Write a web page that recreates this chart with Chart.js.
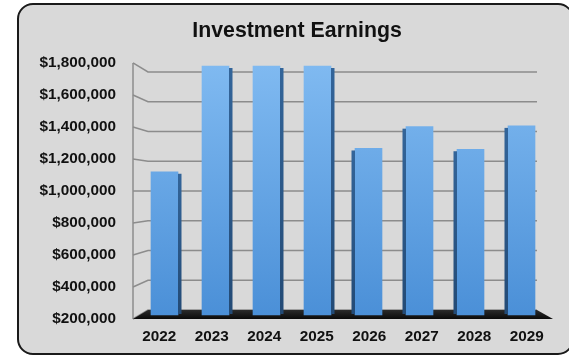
<!DOCTYPE html>
<html>
<head>
<meta charset="utf-8">
<script src="https://cdn.jsdelivr.net/npm/chart.js@4/dist/chart.umd.min.js"></script>
<style>
  html, body { margin: 0; padding: 0; background: #fff; overflow: hidden; }
  #page { position: absolute; left: 0; top: 0; width: 569px; height: 358px; overflow: hidden; }
  #frame {
    position: absolute; left: 17px; top: 3px; width: 553px; height: 348px;
    border: 2.5px solid #1a1a1a; border-radius: 16px; background: #d9d9d9;
  }
  #wrap { position: absolute; left: 0; top: 0; width: 569px; height: 358px; }
</style>
</head>
<body>
<div id="page">
  <div id="frame"></div>
  <div id="wrap"><canvas id="chart"></canvas></div>
</div>
<script>
const years = ['2022', '2023', '2024', '2025', '2026', '2027', '2028', '2029'];
const earnings = [1120000, 1800000, 1800000, 1800000, 1270000, 1410000, 1265000, 1415000];
const axisMin = 200000;
const axisMax = 1800000;
const axisStep = 200000;

const FONT = "'Liberation Sans', Arial, sans-serif";
const GRID = '#8c8c8c';

// back wall sits up and to the right of the front plane
function backY(area, fy) {
  return 72 + (fy - area.top) * (238 / (area.bottom - area.top));
}

const wallsPlugin = {
  id: 'walls',
  beforeDatasetsDraw(chart) {
    const { ctx, chartArea: a, scales: { y } } = chart;
    const backL = a.left + 15, backR = a.right - 16;
    ctx.save();
    ctx.strokeStyle = GRID;
    ctx.lineWidth = 1.5;
    // side wall edge
    ctx.beginPath();
    ctx.moveTo(a.left, a.top);
    ctx.lineTo(a.left, a.bottom);
    ctx.stroke();
    for (let v = axisMin; v <= axisMax; v += axisStep) {
      const fy = y.getPixelForValue(v);
      const by = backY(a, fy);
      ctx.beginPath();
      ctx.moveTo(a.left, fy);
      ctx.lineTo(backL, by);
      ctx.lineTo(backR, by);
      ctx.stroke();
    }
    // floor
    const fy = y.getPixelForValue(axisMin);
    const by = backY(a, fy);
    const g = ctx.createLinearGradient(0, by, 0, fy);
    g.addColorStop(0, '#2b2b2b');
    g.addColorStop(1, '#0a0a0a');
    ctx.fillStyle = g;
    ctx.beginPath();
    ctx.moveTo(a.left, fy);
    ctx.lineTo(backL, by);
    ctx.lineTo(backR, by);
    ctx.lineTo(a.right, fy);
    ctx.closePath();
    ctx.fill();
    ctx.restore();
  },
  afterDatasetsDraw(chart) {
    // dark side faces, facing the middle of the chart
    const { ctx, chartArea: a } = chart;
    const mid = (a.left + a.right) / 2;
    const meta = chart.getDatasetMeta(0);
    ctx.save();
    meta.data.forEach(bar => {
      const half = bar.width / 2;
      const left = bar.x < mid;
      const x0 = left ? bar.x + half : bar.x - half - 3.5;
      const g = ctx.createLinearGradient(0, bar.y, 0, bar.base);
      g.addColorStop(0, '#33659a');
      g.addColorStop(1, '#234a75');
      ctx.fillStyle = g;
      ctx.beginPath();
      ctx.moveTo(x0, bar.y + 2);
      ctx.lineTo(x0 + 3.5, bar.y + 2);
      ctx.lineTo(x0 + 3.5, bar.base - 1);
      ctx.lineTo(x0, bar.base - 1);
      ctx.closePath();
      ctx.fill();
    });
    ctx.restore();
  }
};

function barFill(context) {
  const { ctx, chartArea } = context.chart;
  if (!chartArea) return '#6aa8e8';
  const g = ctx.createLinearGradient(0, chartArea.top, 0, chartArea.bottom);
  g.addColorStop(0, '#80baf1');
  g.addColorStop(1, '#4a8fd7');
  return g;
}

const tickFont = { family: FONT, size: 15.3, weight: 'bold' };

new Chart(document.getElementById('chart'), {
  type: 'bar',
  data: {
    labels: years,
    datasets: [{
      label: 'Earnings',
      data: years.map((yr, i) => ({ x: Number(yr), y: earnings[i] })),
      xAxisID: 'xb',
      yAxisID: 'yb',
      base: axisMin,
      backgroundColor: barFill,
      borderWidth: 0,
      barThickness: 27
    }]
  },
  plugins: [wallsPlugin],
  options: {
    responsive: true,
    maintainAspectRatio: false,
    animation: false,
    layout: { padding: { left: 34, right: 9, top: 0, bottom: 0 } },
    plugins: {
      legend: { display: false },
      tooltip: { enabled: false },
      title: {
        display: true,
        text: 'Investment Earnings',
        color: '#111',
        font: { family: FONT, size: 21.3, weight: 'bold', lineHeight: 1.2 },
        padding: { top: 18, bottom: 19.4 }
      }
    },
    scales: {
      x: {
        type: 'category',
        offset: true,
        grid: { display: false, drawTicks: false },
        border: { display: false },
        ticks: { color: '#111', padding: 9, maxRotation: 0, font: tickFont },
        afterFit(scale) { scale.height = 39; }
      },
      y: {
        type: 'linear',
        min: axisMin,
        max: axisMax,
        grid: { display: false, drawTicks: false },
        border: { display: false },
        ticks: {
          stepSize: axisStep,
          color: '#111',
          padding: 17,
          font: tickFont,
          callback: v => '$' + v.toLocaleString('en-US')
        },
        afterFit(scale) { scale.width = 99; }
      },
      // bars stand a little in front of the back wall, so they get their own mapping
      xb: { type: 'linear', display: false, offset: false, bounds: 'data', min: 2021.3824, max: 2029.6177 },
      yb: {
        type: 'linear',
        position: 'right',
        bounds: 'data',
        min: 174297,
        max: 1819277,
        grid: { display: false, drawTicks: false },
        border: { display: false },
        ticks: { display: false },
        afterFit(scale) { scale.width = 7; }
      }
    }
  }
});
</script>
</body>
</html>
